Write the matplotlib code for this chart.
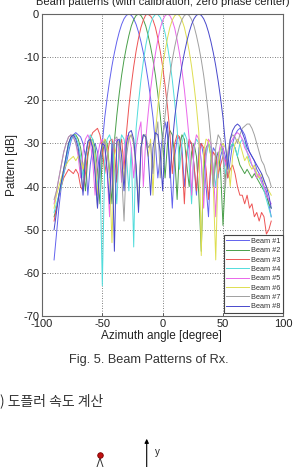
import matplotlib
matplotlib.use('Agg')
import matplotlib.pyplot as plt

# sampling grid of the measured patterns (degrees)
angles = list(range(-90, 91, 2))

# pattern values in dB (one value every 2 degrees)
beam_1 = [-57, -51, -45, -40, -37, -35, -32, -29.5, -28, -27.5,
          -28, -28.5, -30, -33, -42, -35, -31, -30, -32, -38,
          -30, -24, -19.5, -15.5, -12, -9, -6.4, -4.2, -2.4, -1.1,
          -0.3, 0, -0.3, -1.1, -2.4, -4.2, -6.4, -9, -12, -15.5,
          -19.5, -24, -30, -38, -33, -28, -25, -28, -35, -45,
          -33, -29, -28.5, -31, -40, -33, -29.5, -30, -35, -42,
          -31, -30, -33, -40, -47, -34, -31, -32, -38, -33,
          -31, -33, -38, -34, -30, -28, -27, -26.5, -27, -28,
          -30, -32, -33, -34, -36, -37, -38, -40, -41, -44,
          -47]
beam_2 = [-47, -45, -42, -39, -36, -33, -30, -28.5, -28, -28,
          -29, -31, -35, -41, -33, -29.5, -29, -31, -36, -44,
          -33, -29, -30, -36, -44, -29.5, -23.5, -18.5, -14.2, -10.6,
          -7.6, -5, -2.8, -1.3, -0.35, 0, -0.35, -1.3, -2.8, -5,
          -7.6, -10.6, -14.2, -18.5, -23.5, -29.5, -38, -30, -27, -28,
          -33, -43, -31, -28, -29, -35, -40, -32, -30, -33,
          -42, -55, -36, -31, -30, -33, -40, -34, -32, -36,
          -49, -38, -33, -31, -30, -31, -33, -35, -36, -37,
          -36, -37, -38, -37, -38, -39, -40, -41, -42, -44,
          -45]
beam_3 = [-48, -45, -42, -40, -38, -37, -36, -36.5, -37, -36,
          -37, -40, -41, -37, -32, -29, -27.5, -27, -26.5, -28,
          -31, -37, -33, -29.5, -29, -32, -39, -31, -29, -36,
          -27.5, -21.5, -16.5, -12.2, -8.6, -5.6, -3.1, -1.4, -0.2, -0.1,
          -0.5, -1.4, -3.1, -5.6, -8.6, -12.2, -16.5, -21.5, -27.5, -37,
          -30, -28, -28.5, -33, -44, -32, -29, -30, -35, -41,
          -33, -30, -31, -36, -43, -35, -32, -33, -37, -35,
          -33, -34, -38, -36, -35, -37, -40, -42, -42, -44,
          -42, -45, -44, -47, -46, -48, -46, -47, -51, -50,
          -48]
beam_4 = [-46, -44, -42, -40, -37, -34, -31, -29, -28, -28.5,
          -30, -33, -38, -34, -30, -28, -29, -33, -40, -35,
          -63, -34, -29, -28, -30, -36, -44, -31, -28, -29,
          -33, -41, -31, -54, -26.5, -20.5, -15.3, -11, -7.3, -4.4,
          -2.2, -0.8, -0.1, -0.1, -0.8, -2.2, -4.4, -7.3, -11, -15.3,
          -20.5, -26.5, -36, -30, -27.5, -29, -35, -44, -31, -29,
          -30, -34, -42, -33, -30, -31, -36, -40, -33, -31,
          -32, -37, -34, -31, -30, -31, -33, -30, -29, -30,
          -32, -34, -35, -36, -37, -38, -39, -41, -43, -45,
          -47]
beam_5 = [-44, -41, -38, -35, -32, -30, -28.5, -28, -28.5, -30,
          -33, -38, -32, -29, -28, -29.5, -34, -42, -33, -30,
          -29, -31, -37, -47, -33, -29.5, -29, -32, -39, -32,
          -28.5, -28, -31, -38, -31, -27.5, -25, -40, -29, -23,
          -17.5, -13, -9.2, -6, -3.3, -1.5, -0.4, 0, -0.4, -1.5,
          -3.3, -6, -9.2, -13, -17.5, -23, -29, -42, -31, -28,
          -29, -34, -45, -32, -29, -30, -36, -47, -33, -30,
          -31, -35, -33, -30, -29, -28, -27.5, -28, -29, -31,
          -32, -33, -35, -36, -38, -37, -39, -40, -42, -43,
          -44]
beam_6 = [-45, -42, -40, -38, -36, -35, -34, -33.5, -33, -34,
          -33, -34, -36, -33, -30, -29, -30, -34, -42, -34,
          -30, -29, -31, -37, -53, -33, -30, -29.5, -32, -39,
          -31, -28.5, -28, -30, -36, -45, -31, -28, -28.5, -33,
          -29, -42, -27.5, -21.5, -16.5, -12.2, -8.6, -5.6, -3.1, -1.4,
          -0.4, 0, -0.4, -1.4, -3.1, -5.6, -8.6, -12.2, -16.5, -21.5,
          -27.5, -56, -32, -29, -29.5, -33, -40, -57, -35, -31,
          -30, -31, -34, -40, -33, -30, -29, -30, -32, -34,
          -33, -35, -36, -35, -37, -38, -37, -39, -40, -41,
          -42]
beam_7 = [-43, -41, -38, -35, -32, -30, -28.5, -28, -28.5, -30,
          -32, -36, -41, -33, -30, -29, -31, -36, -45, -34,
          -30, -29.5, -32, -38, -33, -29, -28.5, -31, -37, -48,
          -33, -29, -28, -30, -36, -44, -31, -28, -28, -31,
          -30, -37, -29, -25, -38, -29.5, -23.5, -18.5, -14.2, -10.6,
          -7.6, -5, -2.8, -1.3, -0.35, 0, -0.35, -1.3, -2.8, -5,
          -7.6, -10.6, -14.2, -18.5, -23.5, -29.5, -40, -31, -28, -29,
          -33, -40, -32, -29, -28, -28.5, -30, -28, -26.5, -26,
          -25.5, -25.5, -26.5, -28, -30, -32, -34, -35, -37, -38,
          -40]
beam_8 = [-50, -46, -42, -39, -36, -33, -30, -28.5, -28, -29,
          -31, -35, -42, -33, -29.5, -29, -31, -37, -45, -33,
          -30, -30.5, -36, -44, -30, -55, -29.5, -29, -33, -41,
          -30, -27.5, -27, -29, -35, -46, -31, -28, -28.5, -33,
          -42, -31, -27.5, -28, -32, -41, -29, -25, -38, -30,
          -24, -19.5, -15.5, -12, -9, -6.4, -4.2, -2.4, -1.1, -0.3,
          0, -0.3, -1.1, -2.4, -4.2, -6.4, -9, -12, -15.5, -19.5,
          -24, -30, -36, -29, -27, -26, -25.5, -26, -27.5, -29,
          -31, -32, -33, -34, -35, -36, -37, -38.5, -40, -42,
          -45]

beams = [beam_1, beam_2, beam_3, beam_4, beam_5, beam_6, beam_7, beam_8]
beam_labels = ['Beam #1', 'Beam #2', 'Beam #3', 'Beam #4',
               'Beam #5', 'Beam #6', 'Beam #7', 'Beam #8']
beam_colors = ['#6262ee', '#4aa04a', '#ee5454', '#52dcdc',
               '#ea66ea', '#dede50', '#a0a0a0', '#4848cc']

x_ticks = [-100, -50, 0, 50, 100]
y_ticks = [0, -10, -20, -30, -40, -50, -60, -70]

W, H = 293, 467
fig = plt.figure(figsize=(W / 100, H / 100), dpi=100)
fig.patch.set_facecolor('white')

# main plot area
ax = fig.add_axes([42 / W, 151 / H, 241.3 / W, 302 / H])
for vals, lab, col in zip(beams, beam_labels, beam_colors):
    ax.plot(angles, vals, color=col, lw=0.7, label=lab)

ax.set_xlim(-100, 100)
ax.set_ylim(-70, 0)
ax.set_xticks(x_ticks)
ax.set_yticks(y_ticks)
ax.set_xticklabels([str(t) for t in x_ticks])
ax.set_yticklabels([str(t) for t in y_ticks])
ax.tick_params(direction='in', length=2, width=0.6, pad=2,
               labelsize=8, colors='#444444', labelcolor='#222222')
for lab in ax.get_xticklabels() + ax.get_yticklabels():
    lab.set_family('Liberation Sans')
ax.grid(True, linestyle=(0, (1, 2)), color='#555555', lw=0.6)
for sp in ax.spines.values():
    sp.set_color('#666666')
    sp.set_linewidth(0.8)

leg = ax.legend(loc='lower right', bbox_to_anchor=(1.0, 3 / 302), borderaxespad=0,
                prop={'family': 'Liberation Sans', 'size': 5.3},
                handlelength=3.1, handletextpad=0.3, labelspacing=0.3,
                borderpad=0.35, fancybox=False, edgecolor='#444444', framealpha=1)
leg.get_frame().set_linewidth(0.8)
for t in leg.get_texts():
    t.set_color('#333333')

# title (cut off at top of the scan) and axis labels
fig.text(162.6 / W, 1 - 5 / H, 'Beam patterns (with calibration, zero phase center)',
         ha='center', va='baseline', fontsize=8, family='Liberation Sans', color='#222222')
fig.text(12.5 / W, 1 - 165 / H, 'Pattern [dB]', rotation=90, ha='center', va='center',
         fontsize=8.5, family='Liberation Sans', color='#222222')
fig.text(161 / W, 1 - 339 / H, 'Azimuth angle [degree]', ha='center', va='baseline',
         fontsize=8.5, family='Liberation Sans', color='#222222')

# caption and following paragraph
fig.text(149 / W, 1 - 363.5 / H, 'Fig. 5. Beam Patterns of Rx.', ha='center', va='baseline',
         fontsize=9.2, family='Liberation Sans', color='#333333')
fig.text(0, 1 - 401 / H, ') 도플러 속도 계산', ha='left', va='center',
         fontsize=10, family=['Noto Sans CJK KR', 'DejaVu Sans'], color='#333333')

# start of the next figure (partly visible)
ov = fig.add_axes([0, 0, 1, 1])
ov.set_xlim(0, W)
ov.set_ylim(H, 0)
ov.axis('off')
ov.annotate('', xy=(146.7, 436), xytext=(146.7, 470),
            arrowprops=dict(arrowstyle='-|>', lw=0.8, color='black', mutation_scale=6))
ov.text(155, 452, 'y', fontsize=7, family='Liberation Sans', va='center', color='#222222')
ov.plot([97, 100, 103], [467, 458, 467], color='#333333', lw=0.7)
ov.plot([100], [455], 'o', ms=4, mfc='#c01010', mec='#7a0000', mew=0.6)

fig.savefig('out.png', dpi=100)
